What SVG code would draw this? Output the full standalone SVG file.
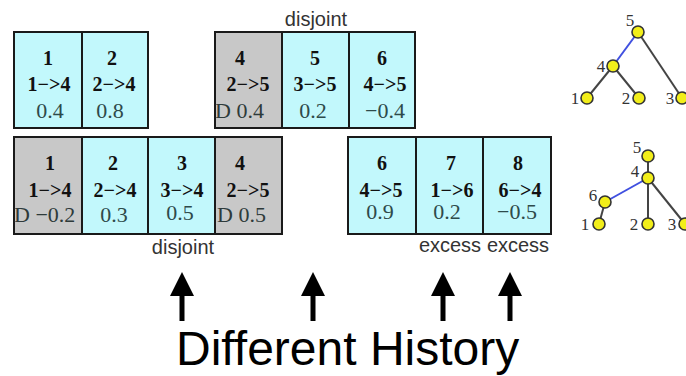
<svg xmlns="http://www.w3.org/2000/svg" width="686" height="376" viewBox="0 0 686 376">
<style>
.c{fill:#c2f8fc;stroke:#1a1a1a;stroke-width:2}
.g{fill:#c8c8c8;stroke:#1a1a1a;stroke-width:2}
.n{font-family:"Liberation Serif",serif;font-weight:bold;font-size:20px;fill:#111;text-anchor:middle}
.v{font-family:"Liberation Serif",serif;font-size:22px;fill:#2e4a4a;text-anchor:middle}
.vd{font-family:"Liberation Serif",serif;font-size:22px;fill:#2e3a3a}
.l{font-family:"Liberation Sans",Arial,sans-serif;font-size:20px;fill:#333;text-anchor:middle}
.tl{font-family:"Liberation Serif",serif;font-size:17px;fill:#333;text-anchor:middle}
.nd{fill:#f2ee1a;stroke:#333;stroke-width:1.6}
.e{stroke:#444;stroke-width:2;fill:none}
.eb{stroke:#4050e0;stroke-width:2;fill:none}
.ar{fill:#000}
</style>
<g id="p1-gene1"><rect class="c" x="14" y="32" width="68" height="96"/><text class="n" x="48" y="65">1</text><text class="n" x="49" y="91">1−&gt;4</text><text class="v" x="50" y="118">0.4</text></g>
<g id="p1-gene2"><rect class="c" x="82" y="32" width="66" height="96"/><text class="n" x="112" y="65">2</text><text class="n" x="114" y="91">2−&gt;4</text><text class="v" x="110" y="118">0.8</text></g>
<g id="p1-gene4"><rect class="g" x="215" y="32" width="67" height="96"/><text class="n" x="240" y="65">4</text><text class="n" x="248" y="91">2−&gt;5</text><text class="vd" x="215" y="118">D 0.4</text></g>
<g id="p1-gene5"><rect class="c" x="282" y="32" width="67" height="96"/><text class="n" x="315" y="65">5</text><text class="n" x="315" y="91">3−&gt;5</text><text class="v" x="313" y="118">0.2</text></g>
<g id="p1-gene6"><rect class="c" x="349" y="32" width="66" height="96"/><text class="n" x="382" y="65">6</text><text class="n" x="385" y="91">4−&gt;5</text><text class="v" x="385" y="118">−0.4</text></g>

<g id="p2-gene1"><rect class="g" x="14" y="137" width="68" height="97"/><text class="n" x="50" y="170">1</text><text class="n" x="50" y="197">1−&gt;4</text><text class="vd" x="14" y="222">D −0.2</text></g>
<g id="p2-gene2"><rect class="c" x="82" y="137" width="66" height="97"/><text class="n" x="113" y="170">2</text><text class="n" x="115" y="197">2−&gt;4</text><text class="v" x="114" y="222">0.3</text></g>
<g id="p2-gene3"><rect class="c" x="148" y="137" width="67" height="97"/><text class="n" x="182" y="170">3</text><text class="n" x="182" y="197">3−&gt;4</text><text class="v" x="180" y="220">0.5</text></g>
<g id="p2-gene4"><rect class="g" x="215" y="137" width="67" height="97"/><text class="n" x="240" y="170">4</text><text class="n" x="248" y="197">2−&gt;5</text><text class="vd" x="217" y="222">D 0.5</text></g>
<g id="p2-gene6"><rect class="c" x="348" y="137" width="68" height="97"/><text class="n" x="382" y="170">6</text><text class="n" x="381" y="197">4−&gt;5</text><text class="v" x="380" y="219">0.9</text></g>
<g id="p2-gene7"><rect class="c" x="416" y="137" width="67" height="97"/><text class="n" x="451" y="170">7</text><text class="n" x="452" y="197">1−&gt;6</text><text class="v" x="447" y="219">0.2</text></g>
<g id="p2-gene8"><rect class="c" x="483" y="137" width="68" height="97"/><text class="n" x="518" y="170">8</text><text class="n" x="520" y="197">6−&gt;4</text><text class="v" x="517" y="219">−0.5</text></g>

<g id="labels">
<text class="l" x="316" y="26">disjoint</text>
<text class="l" x="183" y="254">disjoint</text>
<text class="l" x="450" y="252">excess</text>
<text class="l" x="518" y="252">excess</text>
</g>

<g id="connectors">
<path class="eb" d="M638 32 L613 66"/>
<path class="e" d="M638 32 L682 98"/>
<path class="e" d="M613 66 L587 98"/>
<path class="e" d="M613 66 L639 98"/>
<path class="e" d="M648 156 L648 224"/>
<path class="eb" d="M648 178 L605 202"/>
<path class="e" d="M605 202 L599 224"/>
<path class="e" d="M648 178 L685 224"/>
</g>

<g id="tree1">
<circle class="nd" cx="638" cy="32" r="6"/><circle class="nd" cx="613" cy="66" r="6"/><circle class="nd" cx="587" cy="98" r="6"/><circle class="nd" cx="639" cy="98" r="6"/><circle class="nd" cx="682" cy="98" r="6"/>
<text class="tl" x="630" y="26">5</text><text class="tl" x="601" y="72">4</text><text class="tl" x="575" y="104">1</text><text class="tl" x="626" y="104">2</text><text class="tl" x="670" y="104">3</text>
</g>
<g id="tree2">
<circle class="nd" cx="648" cy="156" r="6"/><circle class="nd" cx="648" cy="178" r="6"/><circle class="nd" cx="605" cy="202" r="6"/><circle class="nd" cx="599" cy="224" r="6"/><circle class="nd" cx="648" cy="224" r="6"/><circle class="nd" cx="685" cy="224" r="6"/>
<text class="tl" x="637" y="153">5</text><text class="tl" x="635" y="177">4</text><text class="tl" x="593" y="201">6</text><text class="tl" x="585" y="230">1</text><text class="tl" x="634" y="230">2</text><text class="tl" x="672" y="230">3</text>
</g>

<g id="arrows">
<g transform="translate(182,0)"><rect class="ar" x="-2.5" y="290" width="5" height="31"/><path class="ar" d="M0 272 L12 296 L-12 296 Z"/></g>
<g transform="translate(313,0)"><rect class="ar" x="-2.5" y="290" width="5" height="31"/><path class="ar" d="M0 272 L12 296 L-12 296 Z"/></g>
<g transform="translate(443,0)"><rect class="ar" x="-2.5" y="290" width="5" height="31"/><path class="ar" d="M0 272 L12 296 L-12 296 Z"/></g>
<g transform="translate(510,0)"><rect class="ar" x="-2.5" y="290" width="5" height="31"/><path class="ar" d="M0 272 L12 296 L-12 296 Z"/></g>
</g>
<text x="176" y="365" font-family="Liberation Sans, Arial, sans-serif" font-size="48" fill="#000">Different History</text>
</svg>
